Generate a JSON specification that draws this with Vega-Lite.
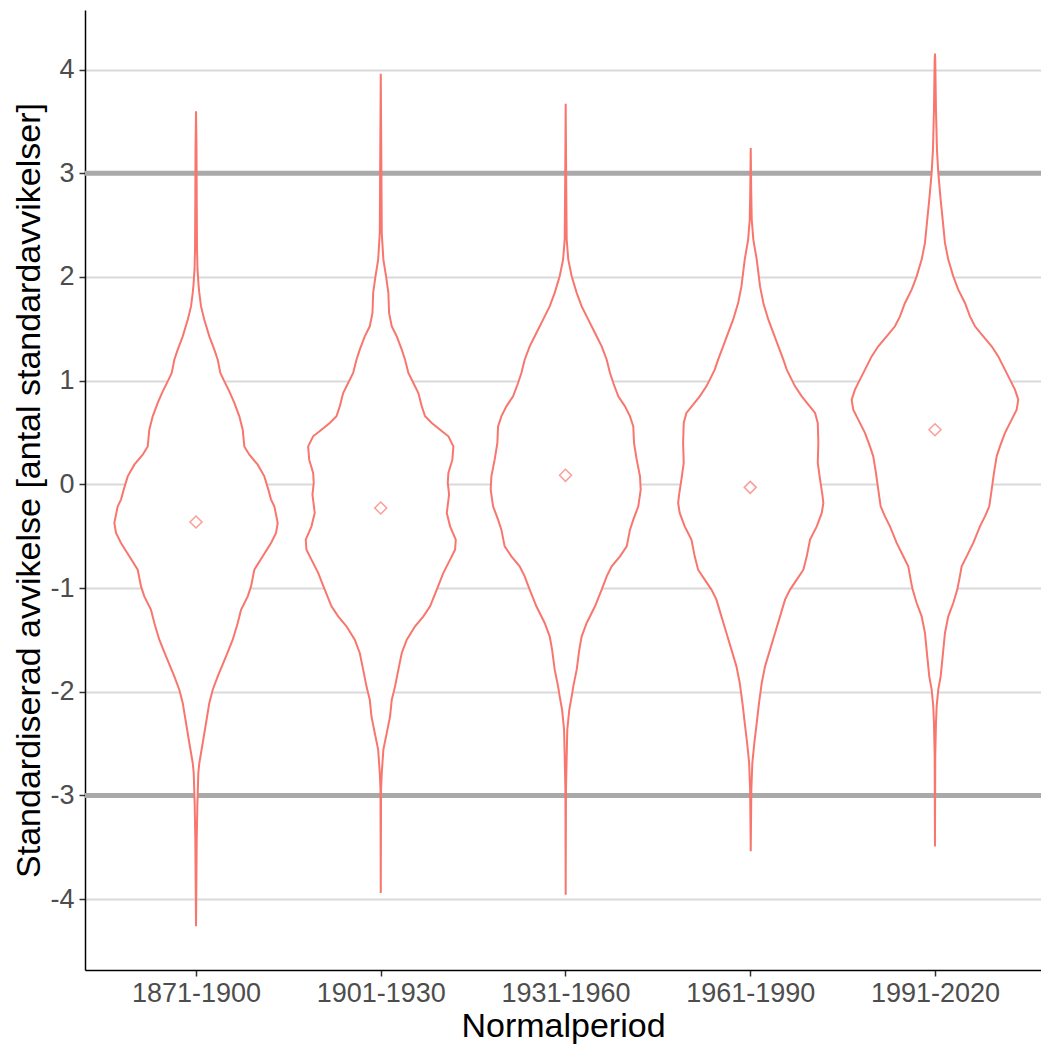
{
  "$schema": "https://vega.github.io/schema/vega-lite/v6.json",
  "width": 956,
  "height": 960,
  "autosize": "none",
  "padding": {"left": 85, "top": 10, "right": 0, "bottom": 74},
  "background": "white",
  "config": {
    "view": {"stroke": null},
    "font": "Liberation Sans",
    "axis": {
      "labelFont": "Liberation Sans",
      "titleFont": "Liberation Sans",
      "titleFontWeight": "normal",
      "titleColor": "#000000",
      "labelColor": "#4D4D4D",
      "domainColor": "#000000",
      "domainWidth": 1.5,
      "tickColor": "#333333",
      "tickWidth": 1.5,
      "tickSize": 6
    }
  },
  "datasets": {
    "violin": [
      {"period": "1871-1900", "value": 3.597, "density": 0},
      {"period": "1871-1900", "value": 3.228, "density": 0.0054},
      {"period": "1871-1900", "value": 2.745, "density": 0.0076},
      {"period": "1871-1900", "value": 2.263, "density": 0.0108},
      {"period": "1871-1900", "value": 2.07, "density": 0.0162},
      {"period": "1871-1900", "value": 1.926, "density": 0.0271},
      {"period": "1871-1900", "value": 1.846, "density": 0.0357},
      {"period": "1871-1900", "value": 1.716, "density": 0.0541},
      {"period": "1871-1900", "value": 1.588, "density": 0.0899},
      {"period": "1871-1900", "value": 1.427, "density": 0.144},
      {"period": "1871-1900", "value": 1.299, "density": 0.1982},
      {"period": "1871-1900", "value": 1.202, "density": 0.235},
      {"period": "1871-1900", "value": 1.074, "density": 0.2631},
      {"period": "1871-1900", "value": 0.993, "density": 0.3064},
      {"period": "1871-1900", "value": 0.897, "density": 0.3606},
      {"period": "1871-1900", "value": 0.785, "density": 0.4147},
      {"period": "1871-1900", "value": 0.656, "density": 0.4689},
      {"period": "1871-1900", "value": 0.527, "density": 0.5057},
      {"period": "1871-1900", "value": 0.366, "density": 0.523},
      {"period": "1871-1900", "value": 0.286, "density": 0.5771},
      {"period": "1871-1900", "value": 0.19, "density": 0.6681},
      {"period": "1871-1900", "value": 0.077, "density": 0.7396},
      {"period": "1871-1900", "value": -0.051, "density": 0.7829},
      {"period": "1871-1900", "value": -0.147, "density": 0.8121},
      {"period": "1871-1900", "value": -0.212, "density": 0.8478},
      {"period": "1871-1900", "value": -0.372, "density": 0.8846},
      {"period": "1871-1900", "value": -0.469, "density": 0.8662},
      {"period": "1871-1900", "value": -0.565, "density": 0.8121},
      {"period": "1871-1900", "value": -0.694, "density": 0.7222},
      {"period": "1871-1900", "value": -0.823, "density": 0.6313},
      {"period": "1871-1900", "value": -0.984, "density": 0.5955},
      {"period": "1871-1900", "value": -1.08, "density": 0.5598},
      {"period": "1871-1900", "value": -1.209, "density": 0.4873},
      {"period": "1871-1900", "value": -1.337, "density": 0.4515},
      {"period": "1871-1900", "value": -1.498, "density": 0.3974},
      {"period": "1871-1900", "value": -1.659, "density": 0.3248},
      {"period": "1871-1900", "value": -1.851, "density": 0.235},
      {"period": "1871-1900", "value": -1.98, "density": 0.1808},
      {"period": "1871-1900", "value": -2.108, "density": 0.144},
      {"period": "1871-1900", "value": -2.301, "density": 0.1083},
      {"period": "1871-1900", "value": -2.494, "density": 0.0725},
      {"period": "1871-1900", "value": -2.687, "density": 0.0357},
      {"period": "1871-1900", "value": -2.783, "density": 0.0249},
      {"period": "1871-1900", "value": -3.105, "density": 0.0141},
      {"period": "1871-1900", "value": -3.426, "density": 0.0076},
      {"period": "1871-1900", "value": -3.908, "density": 0.0032},
      {"period": "1871-1900", "value": -4.262, "density": 0},

      {"period": "1901-1930", "value": 3.96, "density": 0},
      {"period": "1901-1930", "value": 3.228, "density": 0.0054},
      {"period": "1901-1930", "value": 2.424, "density": 0.0108},
      {"period": "1901-1930", "value": 2.167, "density": 0.0282},
      {"period": "1901-1930", "value": 2.006, "density": 0.0574},
      {"period": "1901-1930", "value": 1.846, "density": 0.0823},
      {"period": "1901-1930", "value": 1.653, "density": 0.0899},
      {"period": "1901-1930", "value": 1.524, "density": 0.1191},
      {"period": "1901-1930", "value": 1.427, "density": 0.1732},
      {"period": "1901-1930", "value": 1.299, "density": 0.2274},
      {"period": "1901-1930", "value": 1.202, "density": 0.2631},
      {"period": "1901-1930", "value": 1.074, "density": 0.2989},
      {"period": "1901-1930", "value": 0.977, "density": 0.353},
      {"period": "1901-1930", "value": 0.881, "density": 0.4071},
      {"period": "1901-1930", "value": 0.752, "density": 0.444},
      {"period": "1901-1930", "value": 0.656, "density": 0.4797},
      {"period": "1901-1930", "value": 0.592, "density": 0.5522},
      {"period": "1901-1930", "value": 0.527, "density": 0.6421},
      {"period": "1901-1930", "value": 0.463, "density": 0.732},
      {"period": "1901-1930", "value": 0.366, "density": 0.7861},
      {"period": "1901-1930", "value": 0.238, "density": 0.7753},
      {"period": "1901-1930", "value": 0.11, "density": 0.732},
      {"period": "1901-1930", "value": 0.014, "density": 0.7255},
      {"period": "1901-1930", "value": -0.099, "density": 0.7396},
      {"period": "1901-1930", "value": -0.276, "density": 0.7147},
      {"period": "1901-1930", "value": -0.405, "density": 0.7504},
      {"period": "1901-1930", "value": -0.533, "density": 0.8121},
      {"period": "1901-1930", "value": -0.63, "density": 0.8045},
      {"period": "1901-1930", "value": -0.726, "density": 0.7504},
      {"period": "1901-1930", "value": -0.854, "density": 0.6779},
      {"period": "1901-1930", "value": -1.015, "density": 0.6064},
      {"period": "1901-1930", "value": -1.176, "density": 0.5338},
      {"period": "1901-1930", "value": -1.273, "density": 0.4613},
      {"period": "1901-1930", "value": -1.369, "density": 0.3714},
      {"period": "1901-1930", "value": -1.498, "density": 0.2815},
      {"period": "1901-1930", "value": -1.626, "density": 0.2274},
      {"period": "1901-1930", "value": -1.787, "density": 0.1906},
      {"period": "1901-1930", "value": -1.948, "density": 0.1548},
      {"period": "1901-1930", "value": -2.076, "density": 0.1191},
      {"period": "1901-1930", "value": -2.237, "density": 0.1007},
      {"period": "1901-1930", "value": -2.397, "density": 0.065},
      {"period": "1901-1930", "value": -2.558, "density": 0.0282},
      {"period": "1901-1930", "value": -2.783, "density": 0.0108},
      {"period": "1901-1930", "value": -2.944, "density": 0.0032},
      {"period": "1901-1930", "value": -3.94, "density": 0},

      {"period": "1931-1960", "value": 3.671, "density": 0},
      {"period": "1931-1960", "value": 2.938, "density": 0.0054},
      {"period": "1931-1960", "value": 2.36, "density": 0.0108},
      {"period": "1931-1960", "value": 2.167, "density": 0.0282},
      {"period": "1931-1960", "value": 2.006, "density": 0.065},
      {"period": "1931-1960", "value": 1.846, "density": 0.1191},
      {"period": "1931-1960", "value": 1.716, "density": 0.1732},
      {"period": "1931-1960", "value": 1.588, "density": 0.2447},
      {"period": "1931-1960", "value": 1.46, "density": 0.3173},
      {"period": "1931-1960", "value": 1.331, "density": 0.3898},
      {"period": "1931-1960", "value": 1.202, "density": 0.444},
      {"period": "1931-1960", "value": 1.074, "density": 0.4797},
      {"period": "1931-1960", "value": 0.977, "density": 0.5154},
      {"period": "1931-1960", "value": 0.849, "density": 0.5696},
      {"period": "1931-1960", "value": 0.752, "density": 0.6421},
      {"period": "1931-1960", "value": 0.656, "density": 0.6963},
      {"period": "1931-1960", "value": 0.559, "density": 0.732},
      {"period": "1931-1960", "value": 0.399, "density": 0.7396},
      {"period": "1931-1960", "value": 0.238, "density": 0.7688},
      {"period": "1931-1960", "value": 0.077, "density": 0.8045},
      {"period": "1931-1960", "value": -0.051, "density": 0.8121},
      {"period": "1931-1960", "value": -0.212, "density": 0.7861},
      {"period": "1931-1960", "value": -0.34, "density": 0.732},
      {"period": "1931-1960", "value": -0.437, "density": 0.6963},
      {"period": "1931-1960", "value": -0.598, "density": 0.6605},
      {"period": "1931-1960", "value": -0.694, "density": 0.588},
      {"period": "1931-1960", "value": -0.791, "density": 0.4981},
      {"period": "1931-1960", "value": -0.887, "density": 0.444},
      {"period": "1931-1960", "value": -1.015, "density": 0.3898},
      {"period": "1931-1960", "value": -1.176, "density": 0.3173},
      {"period": "1931-1960", "value": -1.337, "density": 0.2274},
      {"period": "1931-1960", "value": -1.466, "density": 0.1732},
      {"period": "1931-1960", "value": -1.594, "density": 0.1473},
      {"period": "1931-1960", "value": -1.787, "density": 0.1191},
      {"period": "1931-1960", "value": -1.948, "density": 0.0823},
      {"period": "1931-1960", "value": -2.044, "density": 0.065},
      {"period": "1931-1960", "value": -2.173, "density": 0.039},
      {"period": "1931-1960", "value": -2.366, "density": 0.0173},
      {"period": "1931-1960", "value": -2.623, "density": 0.0108},
      {"period": "1931-1960", "value": -2.944, "density": 0.0032},
      {"period": "1931-1960", "value": -3.957, "density": 0},

      {"period": "1961-1990", "value": 3.244, "density": 0},
      {"period": "1961-1990", "value": 2.813, "density": 0.0054},
      {"period": "1961-1990", "value": 2.553, "density": 0.0108},
      {"period": "1961-1990", "value": 2.36, "density": 0.0282},
      {"period": "1961-1990", "value": 2.167, "density": 0.065},
      {"period": "1961-1990", "value": 1.909, "density": 0.1007},
      {"period": "1961-1990", "value": 1.749, "density": 0.1364},
      {"period": "1961-1990", "value": 1.588, "density": 0.1906},
      {"period": "1961-1990", "value": 1.46, "density": 0.2447},
      {"period": "1961-1990", "value": 1.331, "density": 0.2989},
      {"period": "1961-1990", "value": 1.202, "density": 0.353},
      {"period": "1961-1990", "value": 1.106, "density": 0.3898},
      {"period": "1961-1990", "value": 1.041, "density": 0.4255},
      {"period": "1961-1990", "value": 0.945, "density": 0.4797},
      {"period": "1961-1990", "value": 0.849, "density": 0.5522},
      {"period": "1961-1990", "value": 0.769, "density": 0.6237},
      {"period": "1961-1990", "value": 0.689, "density": 0.6963},
      {"period": "1961-1990", "value": 0.592, "density": 0.7255},
      {"period": "1961-1990", "value": 0.399, "density": 0.732},
      {"period": "1961-1990", "value": 0.206, "density": 0.7255},
      {"period": "1961-1990", "value": 0.045, "density": 0.7504},
      {"period": "1961-1990", "value": -0.099, "density": 0.7753},
      {"period": "1961-1990", "value": -0.179, "density": 0.7861},
      {"period": "1961-1990", "value": -0.276, "density": 0.7688},
      {"period": "1961-1990", "value": -0.405, "density": 0.7147},
      {"period": "1961-1990", "value": -0.533, "density": 0.6421},
      {"period": "1961-1990", "value": -0.694, "density": 0.6064},
      {"period": "1961-1990", "value": -0.823, "density": 0.5696},
      {"period": "1961-1990", "value": -0.919, "density": 0.4981},
      {"period": "1961-1990", "value": -1.015, "density": 0.4255},
      {"period": "1961-1990", "value": -1.112, "density": 0.3714},
      {"period": "1961-1990", "value": -1.273, "density": 0.3173},
      {"period": "1961-1990", "value": -1.433, "density": 0.2631},
      {"period": "1961-1990", "value": -1.594, "density": 0.209},
      {"period": "1961-1990", "value": -1.755, "density": 0.1548},
      {"period": "1961-1990", "value": -1.915, "density": 0.1191},
      {"period": "1961-1990", "value": -2.108, "density": 0.0899},
      {"period": "1961-1990", "value": -2.301, "density": 0.065},
      {"period": "1961-1990", "value": -2.494, "density": 0.039},
      {"period": "1961-1990", "value": -2.687, "density": 0.0173},
      {"period": "1961-1990", "value": -2.944, "density": 0.0065},
      {"period": "1961-1990", "value": -3.539, "density": 0},

      {"period": "1991-2020", "value": 4.153, "density": 0},
      {"period": "1991-2020", "value": 4.095, "density": 0.0032},
      {"period": "1991-2020", "value": 3.613, "density": 0.0108},
      {"period": "1991-2020", "value": 3.228, "density": 0.0217},
      {"period": "1991-2020", "value": 3.006, "density": 0.0357},
      {"period": "1991-2020", "value": 2.745, "density": 0.0617},
      {"period": "1991-2020", "value": 2.553, "density": 0.0834},
      {"period": "1991-2020", "value": 2.328, "density": 0.1083},
      {"period": "1991-2020", "value": 2.167, "density": 0.144},
      {"period": "1991-2020", "value": 2.006, "density": 0.1982},
      {"period": "1991-2020", "value": 1.878, "density": 0.2523},
      {"period": "1991-2020", "value": 1.749, "density": 0.3248},
      {"period": "1991-2020", "value": 1.62, "density": 0.379},
      {"period": "1991-2020", "value": 1.524, "density": 0.4331},
      {"period": "1991-2020", "value": 1.427, "density": 0.523},
      {"period": "1991-2020", "value": 1.331, "density": 0.6139},
      {"period": "1991-2020", "value": 1.234, "density": 0.6854},
      {"period": "1991-2020", "value": 1.138, "density": 0.7396},
      {"period": "1991-2020", "value": 1.01, "density": 0.8121},
      {"period": "1991-2020", "value": 0.913, "density": 0.8662},
      {"period": "1991-2020", "value": 0.817, "density": 0.902},
      {"period": "1991-2020", "value": 0.72, "density": 0.8846},
      {"period": "1991-2020", "value": 0.624, "density": 0.8305},
      {"period": "1991-2020", "value": 0.496, "density": 0.758},
      {"period": "1991-2020", "value": 0.366, "density": 0.7038},
      {"period": "1991-2020", "value": 0.27, "density": 0.6681},
      {"period": "1991-2020", "value": 0.11, "density": 0.6389},
      {"period": "1991-2020", "value": -0.051, "density": 0.6139},
      {"period": "1991-2020", "value": -0.212, "density": 0.588},
      {"period": "1991-2020", "value": -0.309, "density": 0.5414},
      {"period": "1991-2020", "value": -0.405, "density": 0.4873},
      {"period": "1991-2020", "value": -0.565, "density": 0.4147},
      {"period": "1991-2020", "value": -0.694, "density": 0.3433},
      {"period": "1991-2020", "value": -0.791, "density": 0.2891},
      {"period": "1991-2020", "value": -0.919, "density": 0.2631},
      {"period": "1991-2020", "value": -1.015, "density": 0.2415},
      {"period": "1991-2020", "value": -1.144, "density": 0.1982},
      {"period": "1991-2020", "value": -1.273, "density": 0.144},
      {"period": "1991-2020", "value": -1.433, "density": 0.1083},
      {"period": "1991-2020", "value": -1.659, "density": 0.0834},
      {"period": "1991-2020", "value": -1.851, "density": 0.0617},
      {"period": "1991-2020", "value": -1.98, "density": 0.0357},
      {"period": "1991-2020", "value": -2.141, "density": 0.0184},
      {"period": "1991-2020", "value": -2.301, "density": 0.0108},
      {"period": "1991-2020", "value": -2.623, "density": 0.0032},
      {"period": "1991-2020", "value": -3.491, "density": 0}
    ],
    "means": [
      {"period": "1871-1900", "value": -0.363},
      {"period": "1901-1930", "value": -0.228},
      {"period": "1931-1960", "value": 0.087},
      {"period": "1961-1990", "value": -0.029},
      {"period": "1991-2020", "value": 0.527}
    ],
    "limits": [
      {"value": 3},
      {"value": -3}
    ]
  },
  "encoding": {
    "y": {
      "field": "value",
      "type": "quantitative",
      "title": "Standardiserad avvikelse [antal standardavvikelser]",
      "scale": {"domain": [-4.683, 4.574], "nice": false, "zero": false},
      "axis": {
        "values": [-4, -3, -2, -1, 0, 1, 2, 3, 4],
        "labelExpr": "'' + datum.value",
        "grid": true,
        "gridColor": "#D9D9D9",
        "gridWidth": 2,
        "labelFontSize": 27,
        "labelPadding": 5,
        "titleFontSize": 34,
        "titlePadding": 3
      }
    }
  },
  "layer": [
    {
      "data": {"name": "limits"},
      "mark": {"type": "rule", "color": "#A9A9A9", "strokeWidth": 5},
      "encoding": {}
    },
    {
      "data": {"name": "violin"},
      "transform": [{"filter": "datum.period === '1871-1900'"}],
      "mark": {"type": "area", "orient": "horizontal", "fill": "white", "stroke": "#F8766D", "strokeWidth": 2},
      "encoding": {
        "x": {"field": "density", "type": "quantitative", "stack": "center", "impute": null, "scale": {"domain": [-0.1587, 5.0163], "nice": false, "zero": false}, "axis": null}
      }
    },
    {
      "data": {"name": "violin"},
      "transform": [{"filter": "datum.period === '1901-1930'"}],
      "mark": {"type": "area", "orient": "horizontal", "fill": "white", "stroke": "#F8766D", "strokeWidth": 2},
      "encoding": {
        "x": {"field": "density", "type": "quantitative", "stack": "center", "impute": null, "scale": {"domain": [-1.195, 3.98], "nice": false, "zero": false}, "axis": null}
      }
    },
    {
      "data": {"name": "violin"},
      "transform": [{"filter": "datum.period === '1931-1960'"}],
      "mark": {"type": "area", "orient": "horizontal", "fill": "white", "stroke": "#F8766D", "strokeWidth": 2},
      "encoding": {
        "x": {"field": "density", "type": "quantitative", "stack": "center", "impute": null, "scale": {"domain": [-2.196, 2.979], "nice": false, "zero": false}, "axis": null}
      }
    },
    {
      "data": {"name": "violin"},
      "transform": [{"filter": "datum.period === '1961-1990'"}],
      "mark": {"type": "area", "orient": "horizontal", "fill": "white", "stroke": "#F8766D", "strokeWidth": 2},
      "encoding": {
        "x": {"field": "density", "type": "quantitative", "stack": "center", "impute": null, "scale": {"domain": [-3.21, 1.964], "nice": false, "zero": false}, "axis": null}
      }
    },
    {
      "data": {"name": "violin"},
      "transform": [{"filter": "datum.period === '1991-2020'"}],
      "mark": {"type": "area", "orient": "horizontal", "fill": "white", "stroke": "#F8766D", "strokeWidth": 2},
      "encoding": {
        "x": {"field": "density", "type": "quantitative", "stack": "center", "impute": null, "scale": {"domain": [-4.15, 1.025], "nice": false, "zero": false}, "axis": null}
      }
    },
    {
      "data": {"name": "means"},
      "mark": {"type": "point", "shape": "diamond", "size": 144, "filled": false, "color": "#F8766D", "strokeWidth": 1.5},
      "encoding": {
        "x": {
          "field": "period",
          "type": "nominal",
          "title": "Normalperiod",
          "scale": {"type": "point", "padding": 0.5873, "align": 0.5115},
          "axis": {
            "orient": "bottom",
            "labelAngle": 0,
            "labelFontSize": 27,
            "labelPadding": 4,
            "titleFontSize": 34,
            "titlePadding": 3,
            "grid": false
          }
        }
      }
    }
  ],
  "resolve": {"scale": {"x": "independent"}}
}
